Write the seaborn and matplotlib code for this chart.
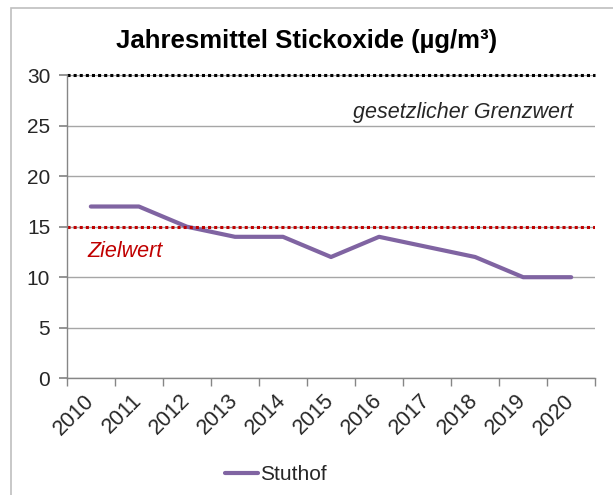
import pandas as pd
import matplotlib.pyplot as plt
import seaborn as sns
from matplotlib.patches import Rectangle
from matplotlib.ticker import FixedLocator, NullFormatter

sns.set_theme(style="white")
plt.rcParams['font.family'] = ['Liberation Sans', 'DejaVu Sans']

years = ['2010', '2011', '2012', '2013', '2014', '2015', '2016', '2017', '2018', '2019', '2020']
stuthof = [17, 17, 15, 14, 14, 12, 14, 13, 12, 10, 10]
grenzwert = 30
zielwert = 15

df = pd.DataFrame({'Jahr': years, 'Stuthof': stuthof})

fig = plt.figure(figsize=(6.13, 4.95), dpi=100)
ax = fig.add_axes([0.109, 0.236, 0.862, 0.612])

# outer chart frame
fig.patches.append(Rectangle((0.018, -0.2), 1.5, 1.183, transform=fig.transFigure,
                             fill=False, edgecolor='#BFBFBF', linewidth=1.2))

sns.lineplot(data=df, x='Jahr', y='Stuthof', ax=ax, color='#8064A2',
             linewidth=3, label='Stuthof', sort=False)

ax.set_xlim(-0.5, len(years) - 0.5)
ax.set_ylim(0, 30)
ax.set_yticks(range(0, 31, 5))
ax.yaxis.grid(True, color='#A6A6A6', linewidth=1)
ax.set_axisbelow(True)

ax.axhline(grenzwert, color='black', linestyle=(0, (1, 1)), linewidth=2.2, clip_on=False)
ax.axhline(zielwert, color='#C00000', linestyle=(0, (1, 1)), linewidth=2.2)

ax.text(len(years) - 0.95, 26.3, 'gesetzlicher Grenzwert', ha='right', va='center',
        fontsize=15.5, style='italic', color='#262626')
ax.text(-0.08, 12.5, 'Zielwert', ha='left', va='center',
        fontsize=15.5, style='italic', color='#C00000')

for s in ['top', 'right']:
    ax.spines[s].set_visible(False)
for s in ['left', 'bottom']:
    ax.spines[s].set_color('#868686')
    ax.spines[s].set_linewidth(1)

ax.tick_params(axis='y', length=6, color='#868686', labelsize=15, pad=6, left=True)
ax.tick_params(axis='x', which='major', length=0, labelsize=15.5, pad=14)
ax.xaxis.set_minor_locator(FixedLocator([i - 0.5 for i in range(len(years) + 1)]))
ax.xaxis.set_minor_formatter(NullFormatter())
ax.tick_params(axis='x', which='minor', length=6, color='#868686', bottom=True)
plt.setp(ax.get_xticklabels(), rotation=45, ha='right', va='center', rotation_mode='anchor')

ax.set_xlabel('')
ax.set_ylabel('')
fig.text(0.5, 1 - 41 / 495, 'Jahresmittel Stickoxide (µg/m³)', ha='center', va='center',
         fontsize=18.5, fontweight='bold', color='black')

ax.get_legend().remove()
fig.legend(loc='center', bbox_to_anchor=(276 / 613, 1 - 475 / 495), frameon=False,
           fontsize=15, handlelength=1.6, handletextpad=0.1)

plt.savefig('out.png', dpi=100)
